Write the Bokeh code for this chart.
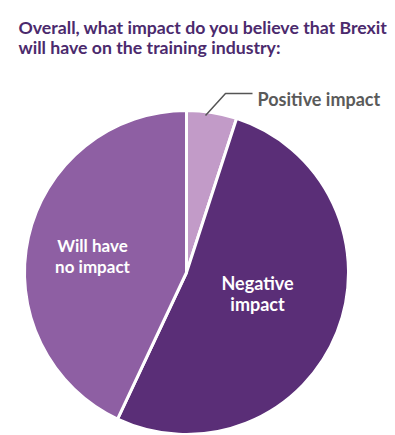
import math
from bokeh.plotting import figure
from bokeh.models import Range1d, ColumnDataSource
from bokeh.core.properties import value
from bokeh.embed import file_html
from bokeh.resources import INLINE

# data
categories = ["Positive impact", "Negative impact", "Will have no impact"]
shares = [5, 52, 43]
colors = ["#c29bc8", "#5a2e77", "#8e5fa3"]
title_lines = ["Overall, what impact do you believe that Brexit",
               "will have on the training industry:"]

W, H = 395, 435
p = figure(width=W, height=H, output_backend="svg", toolbar_location=None,
           x_range=Range1d(0, W), y_range=Range1d(0, H), min_border=0)
p.axis.visible = False
p.grid.visible = False
p.outline_line_color = None
p.background_fill_color = "white"
p.border_fill_color = "white"

total = sum(shares)
starts, ends = [], []
cum = 0
for s in shares:
    starts.append(math.pi / 2 - 2 * math.pi * cum / total)
    cum += s
    ends.append(math.pi / 2 - 2 * math.pi * cum / total)

cx, cy, r = 186, 163, 162
src = ColumnDataSource(dict(cat=categories, start=starts, end=ends, color=colors,
                            x=[cx] * 3, y=[cy] * 3))
p.wedge(x="x", y="y", radius=r, start_angle="start", end_angle="end",
        direction="clock", fill_color="color", line_color="white", line_width=3,
        source=src)

# title
p.text(x=[18, 18], y=[408, 388], text=title_lines, text_font=value("Lato"),
       text_font_style="bold", text_font_size="17.7px", text_color="#4b2a6d",
       text_baseline="alphabetic", text_align="left")

# positive label with leader
p.line(x=[205, 225, 252], y=[320, 342, 342], line_color="#555555", line_width=1.5)
p.text(x=[257], y=[337], text=["Positive impact"], text_font=value("Lato"),
       text_font_style="bold", text_font_size="18px", text_color="#5a5a5a",
       text_baseline="alphabetic", text_align="left")

# inner labels
p.text(x=[92, 92], y=[190, 169], text=["Will have", "no impact"], text_font=value("Lato"),
       text_font_style="bold", text_font_size="17px", text_color="white",
       text_baseline="middle", text_align="center")
p.text(x=[257, 257], y=[153, 132], text=["Negative", "impact"], text_font=value("Lato"),
       text_font_style="bold", text_font_size="18px", text_color="white",
       text_baseline="middle", text_align="center")

open("out.html", "w").write(file_html(p, INLINE))
